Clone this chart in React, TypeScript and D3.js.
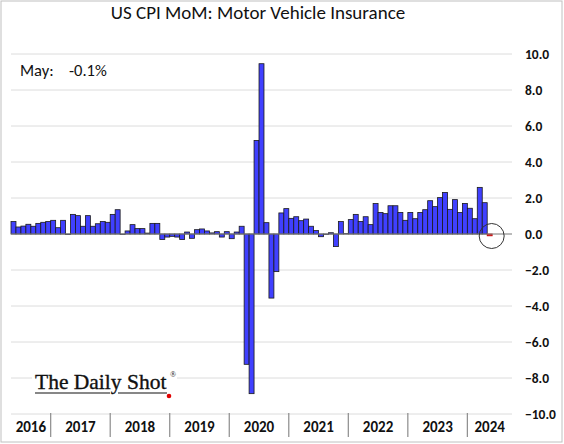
import React from "react";
import * as d3 from "d3";

// Monthly % change, May 2016 .. May 2024
const startYear = 2016;
const startMonth = 4; // May (0-based)
const values2016 = [0.69, 0.39, 0.44, 0.54, 0.43, 0.59, 0.65, 0.69];
const values2017 = [0.76, 0.35, 0.76, -0.03, 1.09, 1.02, 0.43, 1.02, 0.43, 0.57, 0.69, 0.65];
const values2018 = [1.09, 1.35, -0.02, 0.17, 0.52, 0.3, 0.3, 0.05, 0.59, 0.59, -0.31, -0.17];
const values2019 = [-0.13, -0.17, -0.31, 0.11, -0.24, 0.24, 0.28, 0.17, 0.06, 0.13, -0.17, 0.13];
const values2020 = [-0.26, 0.11, 0.43, -7.24, -8.87, 5.2, 9.46, 0.63, -3.56, -2.09, 1.17, 1.41];
const values2021 = [0.87, 0.96, 0.74, 0.83, 0.43, 0.19, -0.15, -0.02, 0.07, -0.7, 0.69, 0.02];
const values2022 = [0.8, 1.09, 0.7, 0.96, 0.52, 1.69, 1.2, 1.13, 1.57, 1.57, 1.2, 0.76];
const values2023 = [1.2, 0.85, 1.2, 1.35, 1.85, 1.52, 2.02, 2.31, 1.37, 1.91, 1.2, 1.7];
const values2024 = [1.43, 0.85, 2.59, 1.74, -0.1];

const values = [
  ...values2016, ...values2017, ...values2018, ...values2019, ...values2020,
  ...values2021, ...values2022, ...values2023, ...values2024,
];
const years = [2016, 2017, 2018, 2019, 2020, 2021, 2022, 2023, 2024];
const yTicks = [-10, -8, -6, -4, -2, 0, 2, 4, 6, 8, 10];
const axisEndMonths = 101; // axis runs through Sep 2024
const title = "US CPI MoM: Motor Vehicle Insurance";
const latestLabel = "May:";
const latestValue = "-0.1%";

const W = 564;
const H = 444;

export default function App() {
  const idx = d3.range(axisEndMonths);
  const x = d3.scaleBand<number>().domain(idx).range([11, 512]).padding(0);
  const y = d3.scaleLinear().domain([-10, 10]).range([414, 54]);
  const fmt = d3.format(".1f");
  const monthIndexOf = (yr: number, m: number) => (yr - startYear) * 12 + m - startMonth;
  const bw = x.bandwidth();
  const lastI = values.length - 1;
  const lastCx = (x(lastI) as number) + bw / 2;

  const font = "Carlito, Lato, 'Open Sans', sans-serif";

  return (
    <svg width={W} height={H} style={{ position: "absolute", left: 0, top: 0, background: "#fff" }}>
      <rect x={0} y={0} width={W} height={H} fill="#fff" />
      <rect x={1} y={1} width={561} height={441} fill="none" stroke="#c0c0c0" strokeWidth={1} />

      {/* title */}
      <text x={258} y={19} textAnchor="middle" fontFamily={font} fontSize={19} fill="#111">
        {title}
      </text>

      {/* gridlines */}
      {yTicks.map((t) => (
        <line key={t} x1={11} x2={512} y1={y(t)} y2={y(t)} stroke="#dcdcdc" strokeWidth={1} />
      ))}

      {/* y labels */}
      {yTicks.map((t) => (
        <text key={"l" + t} x={525} y={y(t)} dy="0.35em" fontFamily={font} fontWeight="bold" fontSize={13.5} fill="#111">
          {fmt(t)}
        </text>
      ))}

      {/* bars */}
      {values.map((v, i) => {
        const isLast = i === lastI;
        return (
          <rect
            key={i}
            x={x(i)}
            width={bw}
            y={Math.min(y(v), y(0))}
            height={Math.max(Math.abs(y(v) - y(0)), 0.3)}
            fill={isLast ? "#d42020" : "#4040ff"}
            stroke={isLast ? "#c00000" : "#1a1a1a"}
            strokeWidth={0.8}
          />
        );
      })}

      {/* zero line */}
      <line x1={11} x2={512} y1={y(0)} y2={y(0)} stroke="#888" strokeWidth={1.2} />

      {/* latest circle */}
      <circle cx={lastCx + 2} cy={y(0) + 2} r={12.5} fill="none" stroke="#333" strokeWidth={1} />

      {/* year separators & labels */}
      {years.map((yr) => {
        const i0 = Math.max(0, monthIndexOf(yr, 0));
        const i1 = Math.min(axisEndMonths, monthIndexOf(yr + 1, 0));
        const xs = i0 === 0 ? 11 : (x(i0) as number);
        const xe = i1 >= axisEndMonths ? 512 : (x(i1) as number);
        return (
          <g key={yr}>
            {i0 > 0 && <line x1={xs} x2={xs} y1={413} y2={437} stroke="#8c8c8c" strokeWidth={1.2} />}
            <text x={(xs + xe) / 2} y={432} textAnchor="middle" fontFamily={font} fontWeight="bold" fontSize={15} fill="#111">
              {yr}
            </text>
          </g>
        );
      })}

      {/* latest annotation */}
      <text x={20} y={76} fontFamily={font} fontSize={16.5} fill="#111">{latestLabel}</text>
      <text x={69} y={76} fontFamily={font} fontSize={16.5} fill="#111">{latestValue}</text>

      {/* logo */}
      <rect x={32} y={368} width={145} height={32} fill="#fff" />
      <text x={35} y={389} fontFamily="'Liberation Serif', serif" fontSize={21.5} fill="#111" stroke="#111" strokeWidth={0.35}>
        The Daily Shot
      </text>
      <text x={170} y={377} fontFamily="'Liberation Serif', serif" fontSize={8} fill="#111">®</text>
      <line x1={35} x2={110} y1={393} y2={393} stroke="#111" strokeWidth={1.2} />
      <line x1={118} x2={167} y1={393} y2={393} stroke="#111" strokeWidth={1.2} />
      <circle cx={169} cy={396} r={2.3} fill="#e00000" />
    </svg>
  );
}
